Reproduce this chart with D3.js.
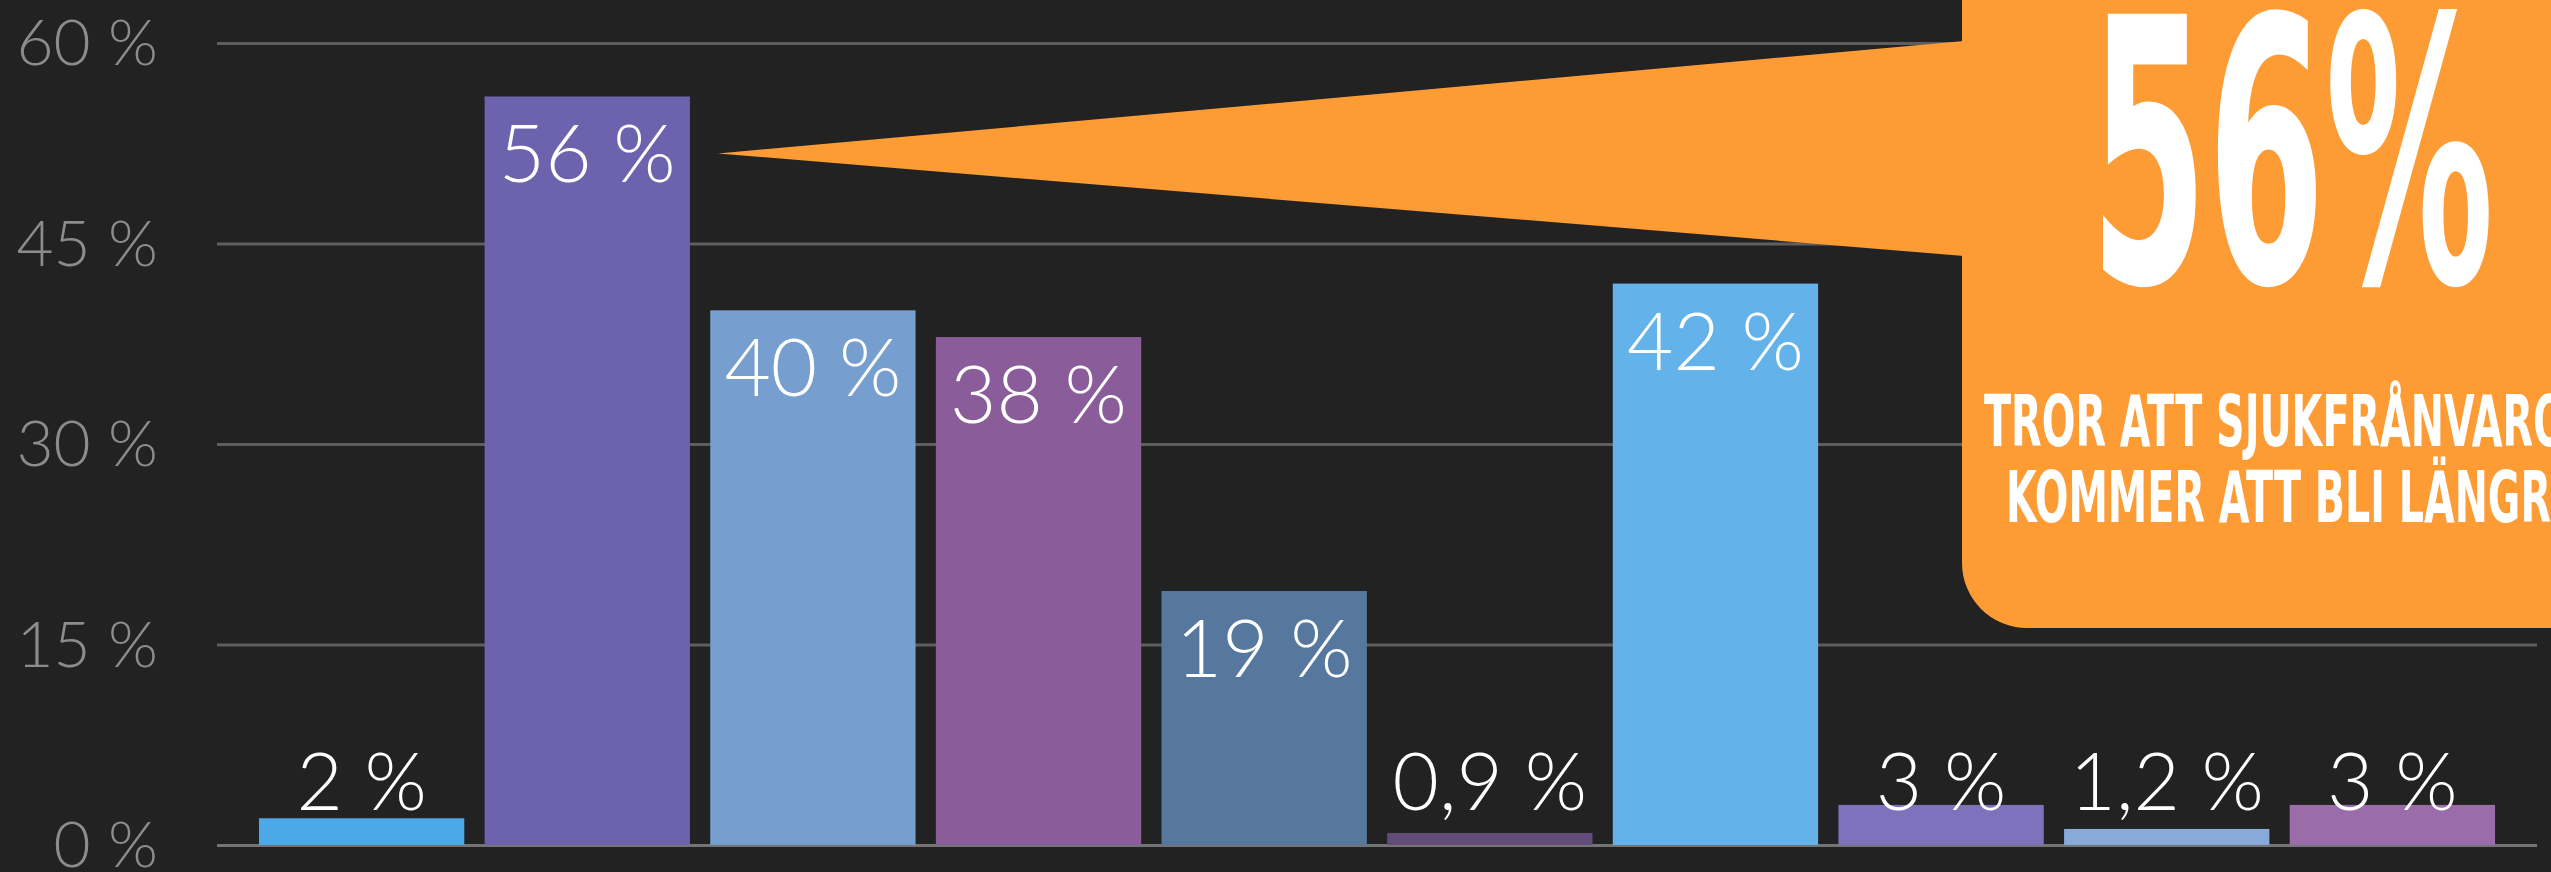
<!DOCTYPE html>
<html>
<head>
<meta charset="utf-8">
<script src="https://cdn.jsdelivr.net/npm/d3@7"></script>
<style>
  html, body { margin:0; padding:0; background:#222222; overflow:hidden; }
  svg { display:block; }
</style>
</head>
<body>
<div class="canvas"></div>
<script>
// data
const categories = ['alt1','alt2','alt3','alt4','alt5','alt6','alt7','alt8','alt9','alt10'];
const values = [2, 56, 40, 38, 19, 0.9, 42, 3, 1.2, 3];
const barColors = ['#4ba9e8','#6c62ae','#769fd0','#8a5c9a','#56789f','#624c7a','#63b3ea','#7d72bb','#87aad8','#9a6ca9'];
const yTicks = [0, 15, 30, 45, 60];
const calloutBig = '56%';
const calloutLines = ['TROR ATT SJUKFRÅNVARON', 'KOMMER ATT BLI LÄNGRE'];

// dimensions
const dims = { width:2551, height:872 };
const plot = { left:217, right:2537, top:43, bottom:845 };

const svg = d3.select('.canvas')
  .append('svg')
  .attr('width', dims.width)
  .attr('height', dims.height);

svg.append('rect')
  .attr('width', dims.width).attr('height', dims.height)
  .attr('fill', '#222222');

// scales
const x = d3.scaleBand()
  .domain(categories)
  .range([plot.left, plot.right])
  .paddingInner(0.09)
  .paddingOuter(0.186);

const y = d3.scaleLinear()
  .domain([0, 60])
  .range([plot.bottom, plot.top]);

const sv = d3.formatLocale({decimal:',', thousands:' ', grouping:[3], currency:['','']});
const fmt = v => sv.format('~g')(v) + ' %';

// y axis + gridlines
const yAxis = d3.axisLeft(y)
  .tickValues(yTicks)
  .tickSize(-(plot.right - plot.left))
  .tickPadding(59)
  .tickFormat(d => d + ' %');

const axisG = svg.append('g')
  .attr('transform', `translate(${plot.left},0)`)
  .call(yAxis);

axisG.select('.domain').remove();
axisG.selectAll('line')
  .attr('stroke', d => d === 0 ? '#747474' : '#5e5e5e')
  .attr('stroke-width', 3);
axisG.selectAll('text')
  .attr('fill', '#8c8c8c')
  .style('font-family', 'Lato, "Open Sans", sans-serif')
  .style('font-weight', 300)
  .style('font-size', '64px')
  .attr('dy', '0.34em');

// bars
const data = categories.map((c, i) => ({ cat:c, value:values[i], color:barColors[i] }));

const graph = svg.append('g');

graph.selectAll('rect.bar')
  .data(data)
  .enter().append('rect')
  .attr('class', 'bar')
  .attr('x', d => x(d.cat))
  .attr('y', d => y(d.value))
  .attr('width', x.bandwidth())
  .attr('height', d => y(0) - y(d.value))
  .attr('fill', d => d.color);

// labels: inside top for tall bars, above the base for the short ones
const labelY = d => d.value >= 10 ? y(d.value) + 86 : y(0) - 35;

graph.selectAll('text.lbl')
  .data(data)
  .enter().append('text')
  .attr('class', 'lbl')
  .attr('x', d => x(d.cat) + x.bandwidth() / 2)
  .attr('y', labelY)
  .attr('text-anchor', 'middle')
  .attr('fill', '#ffffff')
  .style('font-family', 'Lato, "Open Sans", sans-serif')
  .style('font-weight', 300)
  .style('font-size', '80px')
  .text(d => fmt(d.value));

// callout
const hi = data[1];
const tip = { x: x(hi.cat) + x.bandwidth() + 28, y: labelY(hi) - 29 };
const box = { x:1962, y:-120, w:760, h:748, r:65 };
const notch = { top:41, bottom:256 };
const orange = '#fd9c35';

const callout = svg.append('g');

callout.append('path')
  .attr('d', `M${tip.x},${tip.y} L${box.x + 2},${notch.top} L${box.x + 2},${notch.bottom} Z`)
  .attr('fill', orange);

callout.append('rect')
  .attr('x', box.x).attr('y', box.y)
  .attr('width', box.w).attr('height', box.h)
  .attr('rx', box.r).attr('ry', box.r)
  .attr('fill', orange);

const cx = 2292;
const condensed = '"Liberation Sans Narrow", "DejaVu Sans Condensed", "Roboto Condensed", sans-serif';

callout.append('text')
  .attr('x', cx).attr('y', 282)
  .attr('text-anchor', 'middle')
  .attr('textLength', 404)
  .attr('lengthAdjust', 'spacingAndGlyphs')
  .attr('fill', '#ffffff')
  .style('font-family', condensed)
  .style('font-weight', 'bold')
  .style('font-stretch', 'condensed')
  .style('font-size', '368px')
  .text(calloutBig);

callout.selectAll('text.sub')
  .data(calloutLines)
  .enter().append('text')
  .attr('class', 'sub')
  .attr('x', cx)
  .attr('y', (d, i) => 446 + i * 76)
  .attr('text-anchor', 'middle')
  .attr('textLength', (d, i) => i === 0 ? 616 : 572)
  .attr('lengthAdjust', 'spacingAndGlyphs')
  .attr('fill', '#ffffff')
  .style('font-family', condensed)
  .style('font-weight', 'bold')
  .style('font-stretch', 'condensed')
  .style('font-size', '72px')
  .text(d => d);
</script>
</body>
</html>
